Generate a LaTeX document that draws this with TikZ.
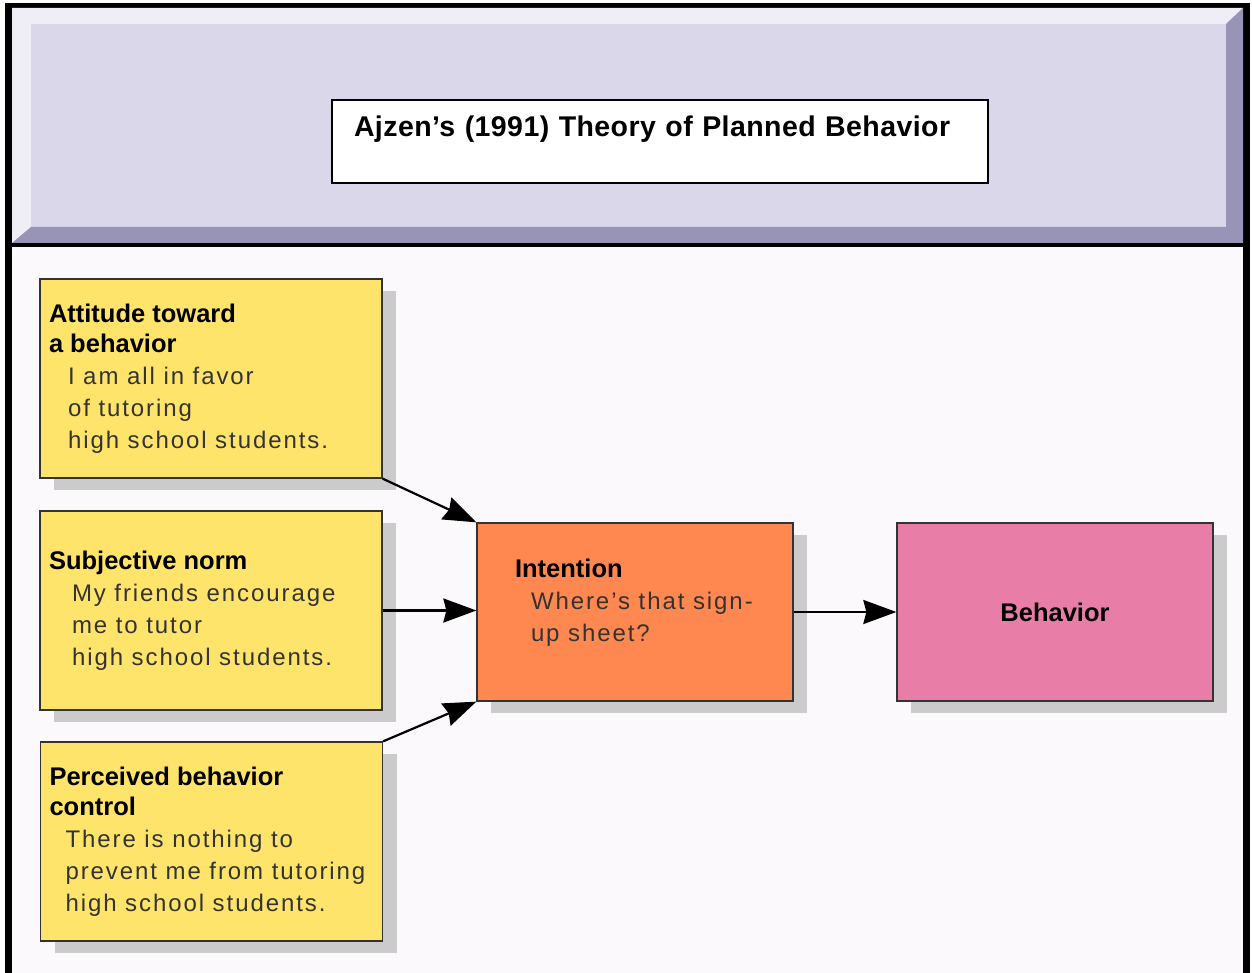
\documentclass[tikz,border=0pt]{standalone}
\usepackage{fontspec}
\setmainfont{Liberation Sans}
\newfontfamily\titlefont[LetterSpace=1.5]{Liberation Sans}
\newfontfamily\bodyfont[LetterSpace=8]{Liberation Sans}
\usepackage{xcolor}
\definecolor{band}{HTML}{D9D7E9}
\definecolor{bandlight}{HTML}{EFEDF5}
\definecolor{banddark}{HTML}{9794B8}
\definecolor{paper}{HTML}{FCF9FC}
\definecolor{noteyellow}{HTML}{FFE46B}
\definecolor{intentorange}{HTML}{FF8750}
\definecolor{behavpink}{HTML}{E87DA8}
\definecolor{shade}{HTML}{CBCBCB}
\definecolor{ink}{HTML}{333333}
\usetikzlibrary{arrows.meta,shadows}

\newcommand\headsize{\fontsize{25.5}{30}\selectfont\bfseries\spaceskip=0pt\xspaceskip=0pt\relax}
\newcommand\hd[2][0pt]{{\headsize\leftskip=#1 #2\par}}
\newcommand\bd[2][19pt]{{\bodyfont\fontsize{24}{32}\selectfont\spaceskip=0pt\xspaceskip=0pt
  \color{ink}\leftskip=#1 #2\par}}

\begin{document}
\begin{tikzpicture}[x=1pt,y=-1pt,
    titlebox/.style={draw=black,line width=1.3pt,fill=white,
      minimum width=656pt,minimum height=83pt,text width=612pt,inner xsep=22pt,
      align=left,text height=20pt,text depth=29pt,
      font=\titlefont\fontsize{28.5}{34}\selectfont\bfseries},
    factor/.style={rectangle,draw=ink,line width=1.3pt,fill=noteyellow,
      minimum width=342pt,minimum height=199pt,text width=324pt,inner xsep=9pt,
      align=left,drop shadow={shadow xshift=14pt,shadow yshift=-12pt,fill=shade,opacity=1}},
    stage/.style={factor,minimum width=316pt,minimum height=178pt,text width=298pt},
    link/.style={-{Stealth[length=33pt,width=24pt,inset=3pt]},line width=2.2pt,draw=black}]
    \useasboundingbox (0,0) rectangle (1252,973);
    \fill[white] (0,0) rectangle (1252,973);
    % frame and banner
    \fill[black] (5,3) rectangle (1250,973);
    \fill[band] (12,8) rectangle (1243,243);
    \fill[bandlight] (12,8) -- (1243,8) -- (1226,24) -- (31,24) -- (31,227) -- (12,243) -- cycle;
    \fill[banddark] (12,243) -- (31,227) -- (1226,227) -- (1226,24) -- (1243,8) -- (1243,243) -- cycle;
    \fill[paper] (12,247) rectangle (1243,973);
    \node[titlebox] (title) at (660,141.5) {Ajzen’s (1991) Theory of Planned Behavior};
    % the three factors
    \node[factor] (att) at (211,378.5) {\hd{Attitude toward\\a behavior}%
      \bd{I am all in favor\\of tutoring\\high school students.}};
    \node[factor] (sub) at (211,610.5) {\hd{Subjective norm}%
      \bd[23pt]{My friends encourage\\me to tutor\\high school students.}};
    \node[factor] (pbc) at (211.5,841.5) {\hd{Perceived behavior\\control}%
      \bd[16pt]{There is nothing to\\prevent me from tutoring\\high school students.}};
    \node[stage,fill=intentorange] (int) at (635,612) {\hd[29pt]{Intention}%
      \bd[45pt]{Where’s that sign-\\up sheet?\rule[-23pt]{0pt}{23pt}}};
    \node[stage,fill=behavpink,align=center,font=\headsize] (beh) at (1055,612) {Behavior};
    \draw[link] (att.south east) -- (int.north west);
    \draw[link] (sub.east) -- (sub.east -| int.west);
    \draw[link] (pbc.north east) -- (int.south west);
    \draw[link] (int.east) -- (beh.west);
\end{tikzpicture}
\end{document}
